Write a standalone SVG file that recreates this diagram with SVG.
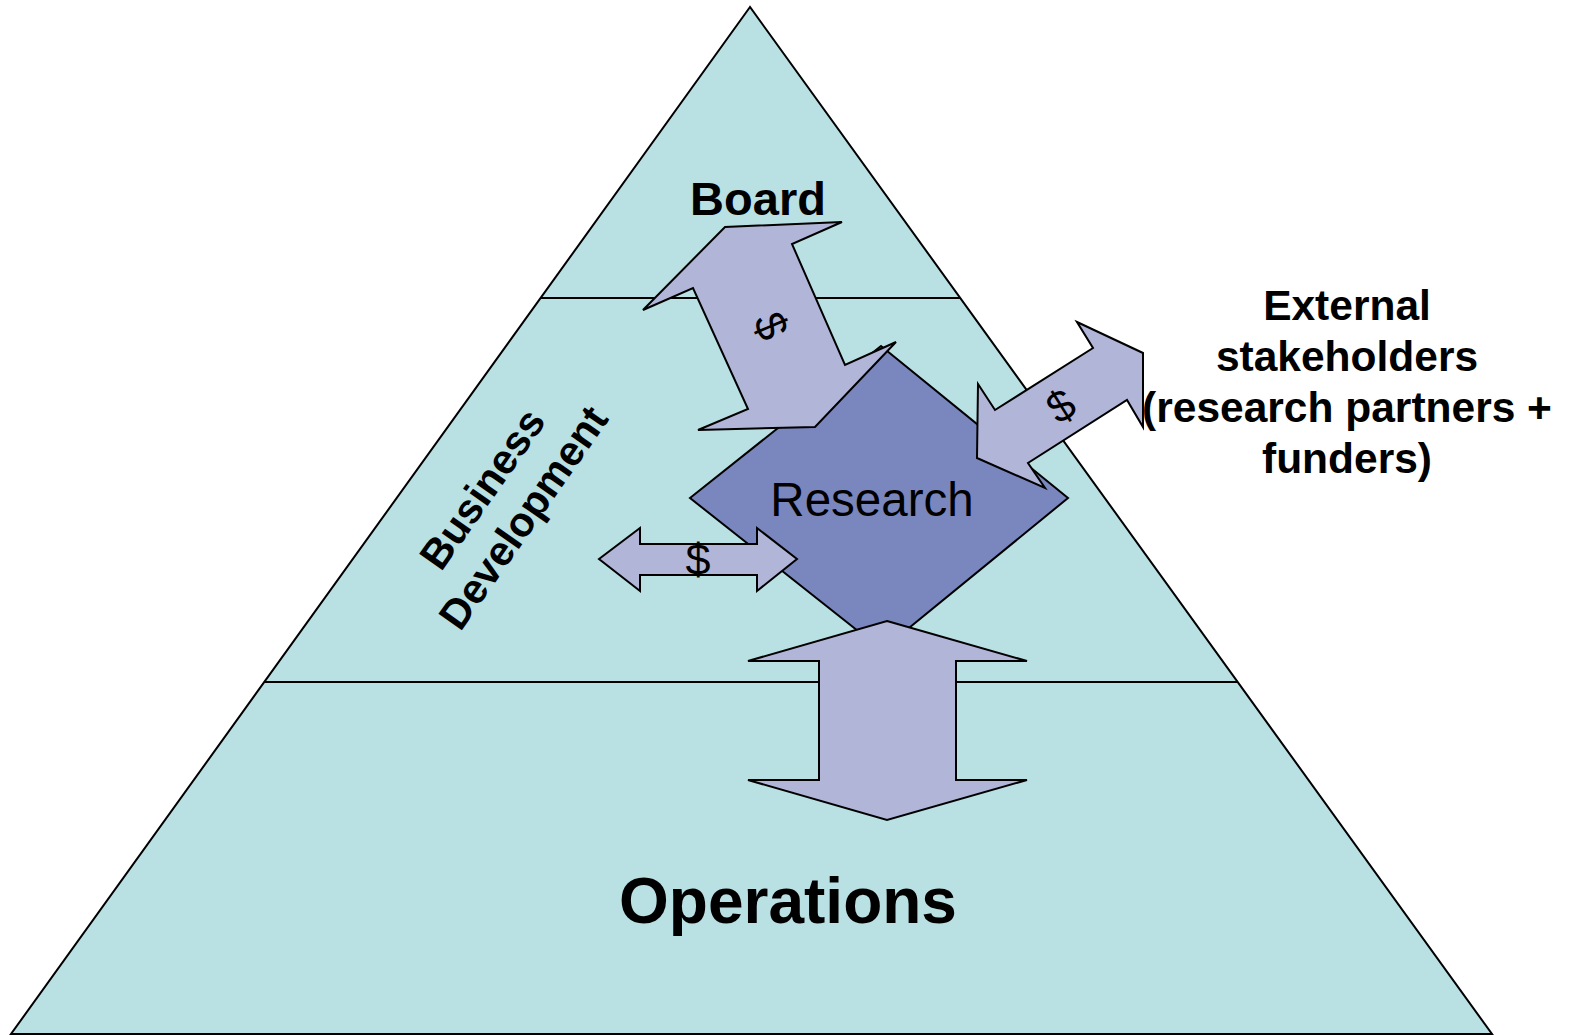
<svg xmlns="http://www.w3.org/2000/svg" width="1569" height="1035" viewBox="0 0 1569 1035">
<style>
.tri{fill:#B9E0E3;stroke:#000;stroke-width:2}
.ln{stroke:#000;stroke-width:2;fill:none}
.dia{fill:#7A86BE;stroke:#000;stroke-width:2;stroke-linejoin:miter}
.arr{fill:#B1B5D8;stroke:#000;stroke-width:2;stroke-linejoin:miter}
.b{font-family:'Liberation Sans',Arial,sans-serif;font-weight:bold;fill:#000}
.r{font-family:'Liberation Sans',Arial,sans-serif;fill:#000}
</style>
<rect width="1569" height="1035" fill="#fff"/>
<g id="pyramid">
<polygon class="tri" points="750,7 11,1034 1492,1034"/>
<line class="ln" x1="541" y1="298" x2="960" y2="298"/>
<line class="ln" x1="264" y1="682" x2="1238" y2="682"/>
</g>
<g id="research">
<polygon class="dia" points="690,498 881,346 1068,498 882,650"/>
<text class="r" x="872" y="516" font-size="47.5" text-anchor="middle">Research</text>
</g>
<g id="connectors">
<g id="board-arrow">
<polygon class="arr" points="643,310 725,227 842,222 792,244 845,365 896,342 815,427 698,430 748,409 693,288"/>
<text class="r" font-size="44" text-anchor="middle" transform="translate(771,326) rotate(67)" y="15">$</text>
</g>
<g id="external-arrow">
<polygon class="arr" points="1077,322 1143,353 1143,427 1127,400 1028,463 1045,488 977,458 978,384 995,410 1093,348"/>
<text class="r" font-size="44" text-anchor="middle" transform="translate(1061,406) rotate(-32)" y="15">$</text>
</g>
<g id="bd-arrow">
<polygon class="arr" points="599,559 640,528 640,544 757,544 757,528 797,559 757,591 757,575 640,575 640,591"/>
<text class="r" x="698" y="575" font-size="45" text-anchor="middle">$</text>
</g>
<g id="ops-arrow">
<polygon class="arr" points="887,621 1027,661 956,661 956,780 1027,780 887,820 748,780 819,780 819,661 748,661"/>
</g>
</g>
<g id="board">
<text class="b" x="758" y="215" font-size="47" text-anchor="middle">Board</text>
</g>
<g id="business-development">
<text class="b" font-size="41.5" text-anchor="middle" transform="translate(494,497) rotate(-55)"><tspan x="0" y="0">Business</tspan><tspan x="0" y="50">Development</tspan></text>
</g>
<g id="operations">
<text class="b" x="788" y="923" font-size="64" text-anchor="middle">Operations</text>
</g>
<g id="external">
<text class="b" font-size="42.5" text-anchor="middle"><tspan x="1347" y="320">External</tspan><tspan x="1347" y="371">stakeholders</tspan><tspan x="1347" y="422">(research partners +</tspan><tspan x="1347" y="473">funders)</tspan></text>
</g>
</svg>
